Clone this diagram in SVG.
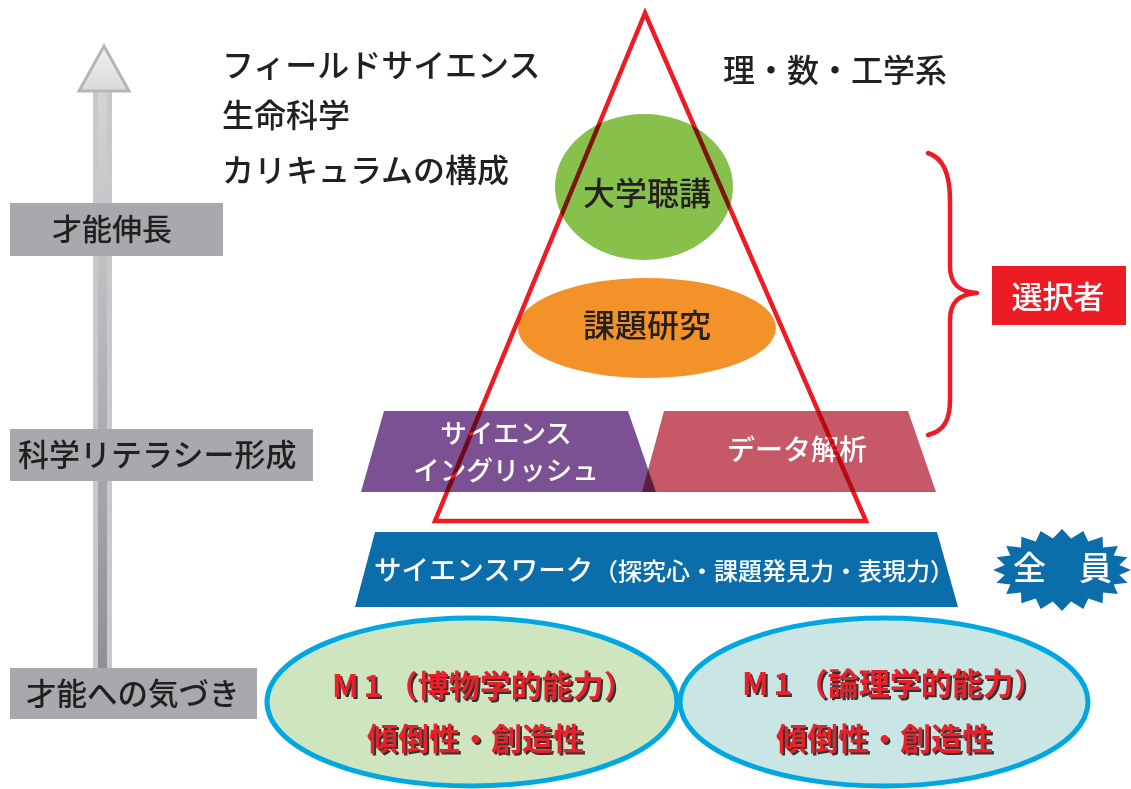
<svg xmlns="http://www.w3.org/2000/svg" width="1131" height="789" viewBox="0 0 1131 789">
  <defs>
    <linearGradient id="shaftGrad" x1="0" y1="0" x2="0" y2="1">
      <stop offset="0" stop-color="#d3d4d6"/>
      <stop offset="1" stop-color="#8e9093"/>
    </linearGradient>
    <linearGradient id="headGrad" x1="0" y1="0" x2="0" y2="1">
      <stop offset="0" stop-color="#eeeff0"/>
      <stop offset="1" stop-color="#d9dadc"/>
    </linearGradient>
  </defs>
  <style>
    .jp { font-family: "Noto Sans CJK JP", "Noto Sans CJK SC", sans-serif; }
    .dark { fill: #231f20; font-weight: 500; }
    .white { fill: #ffffff; font-weight: 500; }
    .lbl { fill: #a7a9ac; }
    .m1 { font-weight: 700; font-size: 31px; }
    .m1r { fill: #e8212a; }
    .m1s { fill: #333333; }
  </style>
  <rect width="1131" height="789" fill="#ffffff"/>

  <g id="connectors">
    <g id="growth-arrow">
      <rect x="93" y="90" width="19" height="580" fill="#c7c8ca"/>
      <rect x="98" y="90" width="9" height="580" fill="url(#shaftGrad)"/>
      <polygon points="104,46 129,91 79,91" fill="url(#headGrad)" stroke="#b4b6b8" stroke-width="3" stroke-linejoin="miter"/>
    </g>
    <path id="brace" d="M928,153 C944,158 950,175 950,200 L950,266 C950,284 959,292 977,293 C959,294 950,302 950,320 L950,400 C950,420 944,431 928,435" fill="none" stroke="#ed1c24" stroke-width="4.5" stroke-linecap="round" stroke-linejoin="round"/>
  </g>

  <g id="label-talent-growth">
    <rect class="lbl" x="10" y="203" width="213" height="53"/>
    <text class="jp dark" x="52" y="240" font-size="30">才能伸長</text>
  </g>
  <g id="label-literacy">
    <rect class="lbl" x="10" y="429" width="303" height="52"/>
    <text class="jp dark" x="18" y="466" font-size="31">科学リテラシー形成</text>
  </g>
  <g id="label-awareness">
    <rect class="lbl" x="10" y="668" width="247" height="51"/>
    <text class="jp dark" x="26" y="705" font-size="30.5">才能への気づき</text>
  </g>

  <g id="curriculum-title">
    <text class="jp dark" x="222" y="77" font-size="32">フィールドサイエンス</text>
    <text class="jp dark" x="222" y="127" font-size="32">生命科学</text>
    <text class="jp dark" x="222" y="182" font-size="32">カリキュラムの構成</text>
  </g>
  <g id="science-title">
    <text class="jp dark" x="723" y="82" font-size="32">理・数・工学系</text>
  </g>

  <g id="node-university">
    <ellipse cx="644" cy="187" rx="89" ry="73" fill="#87c04a"/>
    <text class="jp dark" x="647" y="205" font-size="32" text-anchor="middle">大学聴講</text>
  </g>
  <g id="node-research">
    <ellipse cx="647" cy="328" rx="129" ry="50" fill="#f39229"/>
    <text class="jp dark" x="647" y="337" font-size="32" text-anchor="middle">課題研究</text>
  </g>
  <g id="node-english">
    <polygon points="384,411 628,411 656,492 361,492" fill="#7b5193"/>
    <text class="jp white" font-size="26.5" text-anchor="middle"><tspan x="506" y="443">サイエンス</tspan><tspan x="506" y="480">イングリッシュ</tspan></text>
  </g>
  <g id="node-data">
    <polygon points="664,411 908,411 936,492 642,492" fill="#c75868" style="mix-blend-mode:multiply"/>
    <text class="jp white" x="797" y="460" font-size="28" text-anchor="middle">データ解析</text>
  </g>

  <g id="pyramid">
    <polygon points="645,13 435,521 866,521" fill="none" stroke="#ed1c24" stroke-width="4.5" stroke-linejoin="miter" stroke-miterlimit="20" style="mix-blend-mode:multiply"/>
  </g>

  <g id="node-sciencework">
    <polygon points="375,532 937,532 958,607 355,607" fill="#0b6eab"/>
    <text class="jp white" y="580"><tspan x="374" font-size="27.5">サイエンスワーク</tspan><tspan x="594" font-size="24">（探究心・課題発見力・表現力）</tspan></text>
  </g>

  <g id="node-selected">
    <rect x="992" y="266" width="134" height="59" fill="#ed1c24"/>
    <text class="jp white" x="1058" y="308" font-size="31" text-anchor="middle">選択者</text>
  </g>

  <g id="node-all">
    <polygon fill="#0b6eab" points="1131,570 1119.3,575 1127.6,582.7 1113.7,584.5 1117.8,594.1 1103,592.6 1102.6,603.2 1088.3,598.5 1083.3,609 1071.1,601.6 1062,611 1052.9,601.6 1040.7,609 1035.7,598.5 1021.4,603.2 1021,592.6 1006.2,594.1 1010.3,584.5 996.4,582.7 1004.7,575 993,570 1004.7,565 996.4,557.3 1010.3,555.5 1006.2,545.9 1021,547.4 1021.4,536.8 1035.7,541.5 1040.7,531 1052.9,538.4 1062,529 1071.1,538.4 1083.3,531 1088.3,541.5 1102.6,536.8 1103,547.4 1117.8,545.9 1113.7,555.5 1127.6,557.3 1119.3,565"/>
    <text class="jp white" x="1013" y="580" font-size="33">全　員</text>
  </g>

  <g id="node-m1-natural">
    <ellipse cx="472" cy="702" rx="205" ry="84" fill="#cfe5c0" stroke="#00a7e1" stroke-width="5"/>
    <text class="jp m1 m1s" x="334" y="699"><tspan letter-spacing="5">M1</tspan>（博物学的能力）</text>
    <text class="jp m1 m1r" x="332" y="697"><tspan letter-spacing="5">M1</tspan>（博物学的能力）</text>
    <text class="jp m1 m1s" x="369" y="752">傾倒性・創造性</text>
    <text class="jp m1 m1r" x="367" y="750">傾倒性・創造性</text>
  </g>
  <g id="node-m1-logic">
    <ellipse cx="884" cy="702" rx="204" ry="84" fill="#c9e6e4" stroke="#00a7e1" stroke-width="5"/>
    <text class="jp m1 m1s" x="744" y="697"><tspan letter-spacing="5">M1</tspan>（論理学的能力）</text>
    <text class="jp m1 m1r" x="742" y="695"><tspan letter-spacing="5">M1</tspan>（論理学的能力）</text>
    <text class="jp m1 m1s" x="778" y="752">傾倒性・創造性</text>
    <text class="jp m1 m1r" x="776" y="750">傾倒性・創造性</text>
  </g>
</svg>
